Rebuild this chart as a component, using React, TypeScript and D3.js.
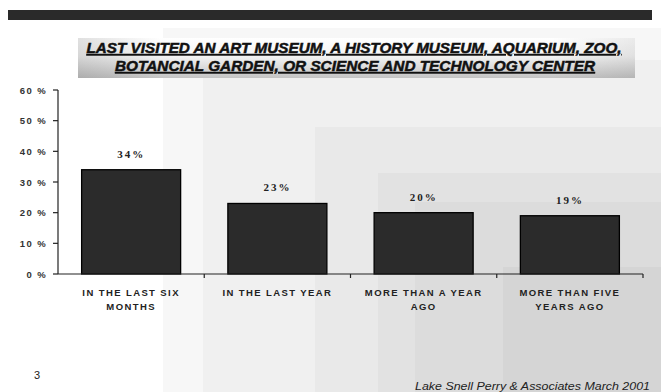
import React from "react";
import * as d3 from "d3";

const categories = [
  ["IN THE LAST SIX", "MONTHS"],
  ["IN THE LAST YEAR"],
  ["MORE THAN A YEAR", "AGO"],
  ["MORE THAN FIVE", "YEARS AGO"],
];
const values = [34, 23, 20, 19];
const yTicks = [0, 10, 20, 30, 40, 50, 60];
const titleLines = [
  "LAST VISITED AN ART MUSEUM, A HISTORY MUSEUM, AQUARIUM, ZOO,",
  "BOTANCIAL GARDEN, OR SCIENCE  AND TECHNOLOGY CENTER",
];
const footer = "Lake Snell Perry & Associates  March 2001";
const pageNumber = "3";

const W = 661;
const H = 392;

const bgRects: [number, number, string][] = [
  [163, 28, "#f7f7f7"],
  [203, 60, "#f0f0f0"],
  [315, 127, "#e9e9e9"],
  [378, 173, "#e2e2e2"],
  [415, 202, "#dcdcdc"],
  [503, 267, "#d5d5d5"],
];

export default function App() {
  const x0 = 58, x1 = 643, y0 = 274, y1 = 90;
  const ids = categories.map((_, i) => String(i));
  const x = d3.scaleBand<string>().domain(ids).range([x0, x1]).paddingInner(0.323).paddingOuter(0.1615);
  const y = d3.scaleLinear().domain([0, 60]).range([y0, y1]);
  const step = x.step();
  const sans = "Liberation Sans, Arial, sans-serif";

  return (
    <svg width={W} height={H} style={{ position: "absolute", left: 0, top: 0 }} fontFamily={sans}>
      <defs>
        <linearGradient id="tg" x1="0" y1="0" x2="0" y2="1">
          <stop offset="0" stopColor="#ffffff" />
          <stop offset="0.45" stopColor="#f4f4f4" />
          <stop offset="1" stopColor="#c4c4c4" />
        </linearGradient>
        <linearGradient id="tgh" x1="0" y1="0" x2="1" y2="0">
          <stop offset="0" stopColor="#000" stopOpacity="0.12" />
          <stop offset="0.15" stopColor="#000" stopOpacity="0" />
          <stop offset="0.85" stopColor="#000" stopOpacity="0" />
          <stop offset="1" stopColor="#000" stopOpacity="0.08" />
        </linearGradient>
      </defs>
      <rect x={0} y={0} width={W} height={H} fill="#ffffff" />
      {bgRects.map(([bx, by, c], i) => (
        <rect key={i} x={bx} y={by} width={W - bx} height={H - by} fill={c} />
      ))}
      <rect x={8} y={10} width={644} height={10} fill="#2a2a2a" />
      <rect x={78} y={38} width={557} height={40} fill="url(#tg)" />
      <rect x={78} y={38} width={557} height={40} fill="url(#tgh)" />
      {titleLines.map((t, i) => (
        <text
          key={i}
          x={i === 0 ? 86.5 : 115}
          y={i === 0 ? 53 : 71}
          fontSize={14.5}
          fontWeight="bold"
          fontStyle="italic"
          textDecoration="underline"
          textLength={i === 0 ? 535 : 480}
          lengthAdjust="spacingAndGlyphs"
          fill="#111"
          stroke="#111"
          strokeWidth={0.5}
        >
          {t}
        </text>
      ))}
      {/* y axis */}
      <line x1={x0} x2={x0} y1={y1} y2={y0} stroke="#222" strokeWidth={1.2} />
      {yTicks.map((t) => (
        <g key={t}>
          <line x1={x0 - 5} x2={x0} y1={y(t)} y2={y(t)} stroke="#222" strokeWidth={1.2} />
          <text x={47} y={y(t) + 3.5} fontSize={9.5} fontWeight="bold" textAnchor="end" fill="#333" letterSpacing={1.4}>
            {t + " %"}
          </text>
        </g>
      ))}
      {/* bars */}
      {values.map((v, i) => (
        <g key={i}>
          <rect
            x={x(String(i))!}
            y={y(v)}
            width={x.bandwidth()}
            height={y0 - y(v)}
            fill="#2b2b2b"
            stroke="#000"
            strokeWidth={1.3}
          />
          <text
            x={x(String(i))! + x.bandwidth() / 2}
            y={y(v) - 12}
            fontSize={11}
            fontWeight="bold"
            fontFamily="Liberation Serif, Times New Roman, serif"
            textAnchor="middle"
            letterSpacing={2}
            fill="#222"
          >
            {v + "%"}
          </text>
        </g>
      ))}
      {/* x axis */}
      <line x1={x0} x2={x1} y1={y0} y2={y0} stroke="#222" strokeWidth={1.2} />
      {ids.map((id, i) => (
        <line key={id} x1={x0 + step * (i + 1)} x2={x0 + step * (i + 1)} y1={y0} y2={y0 + 4} stroke="#222" strokeWidth={1.2} />
      ))}
      {categories.map((lines, i) =>
        lines.map((l, j) => (
          <text
            key={i + "-" + j}
            x={x(String(i))! + x.bandwidth() / 2}
            y={296 + j * 14}
            fontSize={9.5}
            fontWeight="bold"
            textAnchor="middle"
            letterSpacing={1.4}
            fill="#222"
          >
            {l}
          </text>
        ))
      )}
      <text x={34} y={379} fontSize={11} fill="#222">
        {pageNumber}
      </text>
      <text x={415} y={390} fontSize={10.5} fontStyle="italic" fill="#222" textLength={235} lengthAdjust="spacingAndGlyphs">
        {footer}
      </text>
    </svg>
  );
}
